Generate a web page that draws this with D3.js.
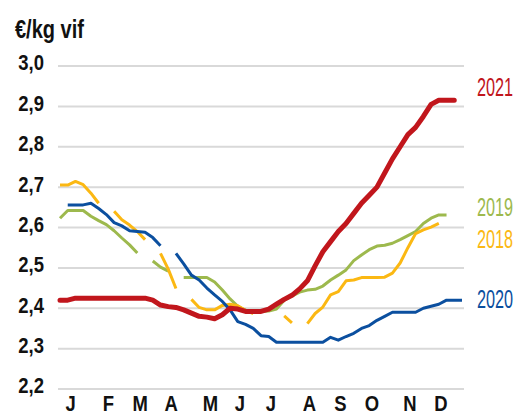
<!DOCTYPE html>
<html>
<head>
<meta charset="utf-8">
<script src="https://cdn.jsdelivr.net/npm/d3@7"></script>
<style>
  html, body { margin: 0; padding: 0; background: #fff; }
  svg { display: block; }
  .lbl { font-family: "Liberation Sans", Arial, sans-serif; }
</style>
</head>
<body>
<div id="chart"></div>
<script>
// weekly live pig price, EUR/kg
var months = ["J", "F", "M", "A", "M", "J", "J", "A", "S", "O", "N", "D"];
// where each month letter sits, in weeks
var monthWeeks = [2.3, 7.2, 11.3, 15.3, 20.4, 24.2, 28.2, 33.2, 37.2, 41.3, 46.2, 50.2];
var yTicks = [2.2, 2.3, 2.4, 2.5, 2.6, 2.7, 2.8, 2.9, 3.0];

var price2018 = [2.705, 2.705, 2.714, 2.706, 2.685, 2.66, null, 2.64, 2.619, 2.606,
	2.59, 2.57, null, 2.536, 2.497, 2.449, null, 2.422, 2.402, 2.396,
	2.396, 2.407, 2.41, 2.406, 2.395, 2.387, null, null, null, 2.381,
	2.364, null, 2.362, 2.387, 2.403, 2.433, 2.441, 2.468, 2.47, 2.476,
	2.476, 2.476, 2.477, 2.487, 2.512, 2.55, 2.585, 2.594, 2.601, 2.61];

var price2019 = [2.623, 2.642, 2.642, 2.642, 2.628, 2.617, 2.607, 2.592, 2.574, 2.557,
	2.537, null, 2.517, 2.502, 2.492, null, 2.476, 2.476, 2.476, 2.476,
	2.465, 2.445, 2.423, 2.405, 2.395, 2.392, 2.392, 2.393, 2.398, 2.42,
	2.43, 2.44, 2.445, 2.447, 2.455, 2.47, 2.482, 2.495, 2.518, 2.532,
	2.545, 2.554, 2.556, 2.561, 2.57, 2.58, 2.59, 2.61, 2.623, 2.631, 2.631];

var price2020 = [null, 2.656, 2.656, 2.656, 2.66, 2.647, 2.632, 2.612, 2.604, 2.592,
	2.59, 2.588, 2.575, 2.555, null, 2.536, 2.51, 2.482, 2.47, 2.45,
	2.433, 2.417, 2.396, 2.367, 2.36, 2.35, 2.332, 2.33, 2.316, 2.316,
	2.316, 2.316, 2.316, 2.316, 2.316, 2.328, 2.321, 2.33, 2.338, 2.35,
	2.357, 2.37, 2.38, 2.39, 2.39, 2.39, 2.39, 2.40, 2.405, 2.41,
	2.42, 2.42, 2.42];

var price2021 = [2.42, 2.42, 2.425, 2.425, 2.425, 2.425, 2.425, 2.425, 2.425, 2.425,
	2.425, 2.425, 2.42, 2.408, 2.404, 2.402, 2.396, 2.388, 2.38, 2.378,
	2.374, 2.384, 2.40, 2.398, 2.392, 2.392, 2.392, 2.398, 2.41, 2.422,
	2.432, 2.448, 2.468, 2.505, 2.54, 2.565, 2.59, 2.61, 2.635, 2.66,
	2.68, 2.70, 2.735, 2.77, 2.80, 2.83, 2.848, 2.875, 2.905, 2.915,
	2.915, 2.915];

// legend label heights, in price units
var legendAt = { "2021": 2.948, "2019": 2.651, "2018": 2.571, "2020": 2.423 };

var series = [
	{ name: "2019", values: price2019, color: "#9db94d", width: 3 },
	{ name: "2018", values: price2018, color: "#fbb813", width: 3 },
	{ name: "2020", values: price2020, color: "#0b4f9f", width: 3 },
	{ name: "2021", values: price2021, color: "#c1161c", width: 5 }
];

var width = 517, height = 416;
var squeeze = 0.84;   // the original uses a condensed face

var svg = d3.select("#chart").append("svg")
	.attr("width", width)
	.attr("height", height);

var x = d3.scaleLinear().domain([1, 53]).range([60, 462]);
var y = d3.scaleLinear().domain([2.2, 3.0]).range([389, 66]);

var fr = d3.formatLocale({ decimal: ",", thousands: " ", grouping: [3], currency: ["", " €"] });
var fmt = fr.format(".1f");

// gridlines
svg.append("g")
	.selectAll("line")
	.data(yTicks)
	.enter()
	.append("line")
	.attr("x1", x.range()[0] - 2)
	.attr("x2", x.range()[1] + 2)
	.attr("y1", function (d) { return y(d); })
	.attr("y2", function (d) { return y(d); })
	.attr("stroke", "#d9d9d9")
	.attr("stroke-width", 2);

// y axis labels
var yAxis = svg.append("g")
	.attr("transform", "translate(58,0)")
	.call(d3.axisLeft(y).tickValues(yTicks).tickFormat(fmt).tickSize(0).tickPadding(14));
yAxis.select(".domain").remove();
yAxis.selectAll("text")
	.attr("class", "lbl")
	.attr("x", -14 / squeeze)
	.attr("dy", "0.18em")
	.attr("transform", "scale(" + squeeze + ",1)")
	.attr("fill", "#111")
	.style("font-size", "22px")
	.style("font-weight", "bold");

// month labels
var xAxis = svg.append("g")
	.attr("transform", "translate(0," + y(2.2) + ")")
	.call(d3.axisBottom(x).tickValues(monthWeeks)
		.tickFormat(function (d, i) { return months[i]; })
		.tickSize(0).tickPadding(6));
xAxis.select(".domain").remove();
xAxis.selectAll("text")
	.attr("class", "lbl")
	.attr("transform", "scale(" + squeeze + ",1)")
	.attr("fill", "#111")
	.style("font-size", "22px")
	.style("font-weight", "bold");

// unit title
svg.append("text")
	.attr("class", "lbl")
	.attr("transform", "translate(15,38) scale(0.8,1)")
	.attr("fill", "#111")
	.style("font-size", "25px")
	.style("font-weight", "bold")
	.text("€/kg vif");

var line = d3.line()
	.defined(function (d) { return d != null; })
	.x(function (d, i) { return x(i + 1); })
	.y(function (d) { return y(d); });

svg.append("g")
	.selectAll("path")
	.data(series)
	.enter()
	.append("path")
	.attr("d", function (d) { return line(d.values); })
	.attr("fill", "none")
	.attr("stroke", function (d) { return d.color; })
	.attr("stroke-width", function (d) { return d.width; })
	.attr("stroke-linejoin", "round")
	.attr("stroke-linecap", function (d) { return d.width > 3 ? "round" : "butt"; });

// year labels at the right
svg.append("g")
	.selectAll("text")
	.data(series)
	.enter()
	.append("text")
	.attr("class", "lbl")
	.attr("transform", function (d) {
		return "translate(477," + y(legendAt[d.name]) + ") scale(0.65,1)";
	})
	.attr("dy", "0.36em")
	.attr("fill", function (d) { return d.color; })
	.style("font-size", "25px")
	.text(function (d) { return d.name; });
</script>
</body>
</html>
